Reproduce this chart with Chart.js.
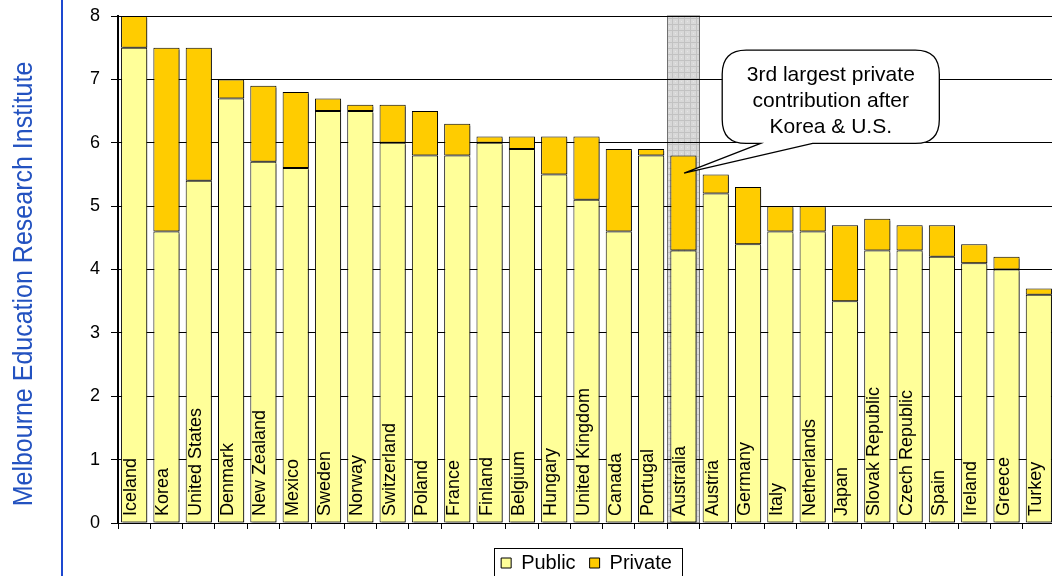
<!DOCTYPE html>
<html lang="en">
<head>
<meta charset="UTF-8">
<title>Public and private spending</title>
<script src="https://cdn.jsdelivr.net/npm/chart.js@4.4.0/dist/chart.umd.min.js"></script>
<style>
  html, body { margin: 0; padding: 0; background: #fff; overflow: hidden; }
  #wrap { width: 1056px; height: 576px; }
</style>
</head>
<body>
<div id="wrap"><canvas id="myChart" width="1056" height="576"></canvas></div>
<script>
// values
const countries = ['Iceland', 'Korea', 'United States', 'Denmark', 'New Zealand', 'Mexico', 'Sweden',
  'Norway', 'Switzerland', 'Poland', 'France', 'Finland', 'Belgium', 'Hungary', 'United Kingdom',
  'Canada', 'Portugal', 'Australia', 'Austria', 'Germany', 'Italy', 'Netherlands', 'Japan',
  'Slovak Republic', 'Czech Republic', 'Spain', 'Ireland', 'Greece', 'Turkey'];
const publicShare = [7.5, 4.6, 5.4, 6.7, 5.7, 5.6, 6.5, 6.5, 6.0, 5.8, 5.8, 6.0, 5.9, 5.5, 5.1,
  4.6, 5.8, 4.3, 5.2, 4.4, 4.6, 4.6, 3.5, 4.3, 4.3, 4.2, 4.1, 4.0, 3.6];
const privateShare = [0.5, 2.9, 2.1, 0.3, 1.2, 1.2, 0.2, 0.1, 0.6, 0.7, 0.5, 0.1, 0.2, 0.6, 1.0,
  1.3, 0.1, 1.5, 0.3, 0.9, 0.4, 0.4, 1.2, 0.5, 0.4, 0.5, 0.3, 0.2, 0.1];
const yMin = 0, yMax = 8;

const sideTitle = 'Melbourne Education Research Institute';
const highlight = countries.indexOf('Australia');
const noteLines = ['3rd largest private', 'contribution after', 'Korea & U.S.'];
// callout placed in value space (category index, y value)
const noteBox = { x0: 18.2, x1: 24.92, yTop: 7.46, yBottom: 5.99 };
const noteTail = { x0: 19.39, x1: 21.0, tipX: 17.02, tipY: 5.52 };

const FONT = "'Liberation Sans', Arial, sans-serif";

// gray hatch for the highlighted column
const pat = document.createElement('canvas');
pat.width = 6; pat.height = 6;
const pctx = pat.getContext('2d');
pctx.fillStyle = '#d8d8d8'; pctx.fillRect(0, 0, 6, 6);
pctx.fillStyle = '#c2c2c2'; pctx.fillRect(0, 0, 6, 1); pctx.fillRect(0, 0, 1, 6);
pctx.fillStyle = '#e6e6e6'; pctx.fillRect(3, 3, 1, 1);

const decor = {
  id: 'decor',
  afterLayout(chart) {
    const lg = chart.legend;
    lg.top += 10;
    lg.bottom += 10;
  },
  beforeDraw(chart) {
    const { ctx, chartArea: a, scales: { x } } = chart;
    ctx.save();
    // side title + blue rule
    ctx.fillStyle = '#2352c0';
    ctx.font = '25px ' + FONT;
    ctx.translate(32, 284);
    ctx.scale(1.12, 1);
    ctx.rotate(-Math.PI / 2);
    ctx.textAlign = 'center';
    ctx.textBaseline = 'alphabetic';
    ctx.fillText(sideTitle, 0, 0);
    ctx.restore();

    ctx.save();
    ctx.strokeStyle = '#1d48d0';
    ctx.lineWidth = 2;
    ctx.beginPath();
    ctx.moveTo(62, 0); ctx.lineTo(62, chart.height);
    ctx.stroke();

    // highlighted column
    const half = (x.getPixelForValue(1) - x.getPixelForValue(0)) / 2;
    const cx = x.getPixelForValue(highlight);
    ctx.fillStyle = ctx.createPattern(pat, 'repeat');
    ctx.fillRect(cx - half, a.top, half * 2, a.bottom - a.top);
    ctx.strokeStyle = '#707070';
    ctx.lineWidth = 1;
    ctx.strokeRect(Math.round(cx - half) + 0.5, a.top, Math.round(half * 2), a.bottom - a.top);
    ctx.restore();
  },
  beforeDatasetsDraw(chart) {
    const ctx = chart.ctx;
    ctx.save();
    ctx.shadowColor = 'rgba(0,0,0,0.45)';
    ctx.shadowOffsetX = 2;
    ctx.shadowOffsetY = 2;
    ctx.shadowBlur = 0;
  },
  afterDatasetsDraw(chart) {
    const { ctx, scales: { x, y } } = chart;
    ctx.restore();

    // country names inside the bars
    ctx.save();
    ctx.fillStyle = '#000';
    ctx.font = '18px ' + FONT;
    ctx.textAlign = 'left';
    ctx.textBaseline = 'alphabetic';
    const y0 = y.getPixelForValue(0) - 7;
    countries.forEach((name, i) => {
      ctx.save();
      ctx.translate(x.getPixelForValue(i) + 2, y0);
      ctx.rotate(-Math.PI / 2);
      ctx.fillText(name, 0, 0);
      ctx.restore();
    });
    ctx.restore();

    // callout bubble
    const L = x.getPixelForValue(noteBox.x0), R = x.getPixelForValue(noteBox.x1);
    const T = y.getPixelForValue(noteBox.yTop), B = y.getPixelForValue(noteBox.yBottom);
    const t0 = x.getPixelForValue(noteTail.x0), t1 = x.getPixelForValue(noteTail.x1);
    const tx = x.getPixelForValue(noteTail.tipX), ty = y.getPixelForValue(noteTail.tipY);
    const r = 24;
    ctx.save();
    ctx.beginPath();
    ctx.moveTo(L + r, T);
    ctx.lineTo(R - r, T);
    ctx.quadraticCurveTo(R, T, R, T + r);
    ctx.lineTo(R, B - r);
    ctx.quadraticCurveTo(R, B, R - r, B);
    ctx.lineTo(t1, B);
    ctx.lineTo(tx, ty);
    ctx.lineTo(t0, B);
    ctx.lineTo(L + r, B);
    ctx.quadraticCurveTo(L, B, L, B - r);
    ctx.lineTo(L, T + r);
    ctx.quadraticCurveTo(L, T, L + r, T);
    ctx.closePath();
    ctx.fillStyle = '#fff';
    ctx.fill();
    ctx.strokeStyle = '#000';
    ctx.lineWidth = 1.3;
    ctx.stroke();
    ctx.fillStyle = '#000';
    ctx.font = '21px ' + FONT;
    ctx.textAlign = 'center';
    ctx.textBaseline = 'alphabetic';
    noteLines.forEach((s, i) => ctx.fillText(s, (L + R) / 2, T + 31 + i * 26));
    ctx.restore();
  },
  afterDraw(chart) {
    const ctx = chart.ctx;
    const boxes = chart.legend.legendHitBoxes;
    if (!boxes || !boxes.length) return;
    const left = Math.min(...boxes.map(b => b.left)) - 7;
    const right = Math.max(...boxes.map(b => b.left + b.width)) + 10;
    const top = boxes[0].top - 5;
    const h = boxes[0].height + 10;
    ctx.save();
    ctx.strokeStyle = '#000';
    ctx.lineWidth = 1;
    ctx.strokeRect(Math.round(left) + 0.5, Math.round(top) + 0.5, Math.round(right - left), Math.round(h));
    ctx.restore();
  }
};

const ctx = document.getElementById('myChart').getContext('2d');
const myChart = new Chart(ctx, {
  type: 'bar',
  data: {
    labels: countries,
    datasets: [{
      label: 'Public',
      data: publicShare,
      backgroundColor: '#ffff99',
      borderColor: '#000',
      borderWidth: 1,
      borderSkipped: false
    }, {
      label: 'Private',
      data: privateShare,
      backgroundColor: '#ffcc00',
      borderColor: '#000',
      borderWidth: 1,
      borderSkipped: false
    }]
  },
  options: {
    responsive: false,
    animation: false,
    layout: { padding: { top: 16, right: 1, bottom: 3, left: 0 } },
    datasets: { bar: { barPercentage: 0.81, categoryPercentage: 1 } },
    scales: {
      x: {
        stacked: true,
        ticks: { display: false },
        grid: { drawOnChartArea: false, color: '#000', tickLength: 6, offset: true },
        border: { color: '#000', width: 1 }
      },
      y: {
        stacked: true,
        min: yMin,
        max: yMax,
        ticks: { stepSize: 1, color: '#000', padding: 11, font: { family: FONT, size: 18 } },
        grid: { color: '#000', lineWidth: 1, tickLength: 7 },
        border: { color: '#000', width: 2 },
        afterFit(scale) {
          scale.width = 118;
          scale.paddingTop = 0;
          scale.paddingBottom = 0;
        }
      }
    },
    plugins: {
      legend: {
        position: 'bottom',
        fullSize: false,
        labels: {
          boxWidth: 10,
          boxHeight: 10,
          padding: 14,
          color: '#000',
          font: { family: FONT, size: 20 }
        }
      },
      tooltip: { enabled: false }
    }
  },
  plugins: [decor]
});
</script>
</body>
</html>
